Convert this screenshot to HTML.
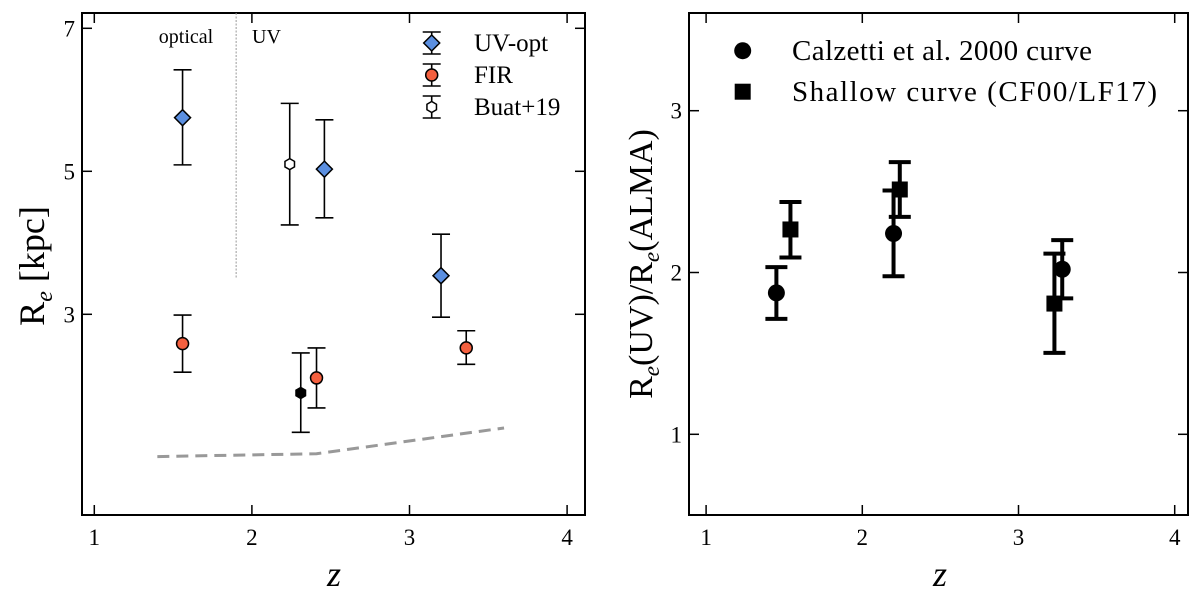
<!DOCTYPE html>
<html><head><meta charset="utf-8"><style>
body{margin:0;background:#fff;}
svg{display:block;font-family:"Liberation Serif",serif;}
</style></head><body>
<svg id="c" width="1200" height="597" viewBox="0 0 1200 597"></svg>
<script>
// ---- Left panel data ----
const uvZ=[1.56,2.46,3.20], uvR=[5.75,5.03,3.54], uvLo=[5.09,4.35,2.96], uvHi=[6.42,5.72,4.12];
const firZ=[1.56,2.41,3.36], firR=[2.59,2.11,2.53], firLo=[2.19,1.69,2.30], firHi=[2.99,2.53,2.77];
const buatZ=[2.24], buatR=[5.10], buatLo=[4.25], buatHi=[5.95];
const blkZ=[2.31], blkR=[1.90], blkLo=[1.35], blkHi=[2.46];
const dashZ=[1.40,2.41,3.60], dashR=[1.01,1.05,1.41];
const leftXTicks=[1,2,3,4], leftYTicks=[3,5,7];
// ---- Right panel data ----
const calZ=[1.45,2.20,3.28], calR=[1.874,2.241,2.02], calLo=[1.713,1.977,1.84], calHi=[2.033,2.507,2.20];
const shZ=[1.54,2.24,3.23], shR=[2.266,2.513,1.808], shLo=[2.093,2.344,1.503], shHi=[2.436,2.682,2.117];
const rightXTicks=[1,2,3,4], rightYTicks=[1,2,3];

const NS="http://www.w3.org/2000/svg", svg=document.getElementById('c');
function mk(t,a,p){const e=document.createElementNS(NS,t);for(const k in a)e.setAttribute(k,a[k]);(p||svg).appendChild(e);return e;}
const lx=z=>94.3+(z-1)*157.6, ly=v=>28.3+(7-v)*71.5;
const rx=z=>706.1+(z-1)*156.2, ry=v=>110.7+(3-v)*161.8;

let g=mk('g',{});
let f=mk('rect',{x:82,y:13,width:503,height:502,fill:'none',stroke:'#000','stroke-width':2},g);

leftXTicks.forEach(t=>{const x=lx(t);
 mk('line',{x1:x,y1:515,x2:x,y2:505,stroke:'#000','stroke-width':1.5},g);
 mk('line',{x1:x,y1:13,x2:x,y2:23,stroke:'#000','stroke-width':1.5},g);
 const tx=mk('text',{x:x,y:545,'font-size':23,'text-anchor':'middle'},g);tx.textContent=t;
 });
leftYTicks.forEach(t=>{const y=ly(t);
 mk('line',{x1:82,y1:y,x2:92,y2:y,stroke:'#000','stroke-width':1.5},g);
 mk('line',{x1:585,y1:y,x2:575,y2:y,stroke:'#000','stroke-width':1.5},g);
 const tx=mk('text',{x:75,y:y+8,'font-size':23,'text-anchor':'end'},g);tx.textContent=t;
 });
let yl=mk('text',{x:0,y:0,'font-size':36,'text-anchor':'middle',transform:'translate(44,266) rotate(-90)'},g);
yl.innerHTML='R<tspan font-style="italic" font-size="24" dy="8">e</tspan><tspan dy="-8"> [kpc]</tspan>';

let xl=mk('text',{x:334,y:586,'font-size':36,'font-style':'italic','text-anchor':'middle'},g);xl.textContent='z';

let dv=mk('line',{x1:lx(1.90),y1:13,x2:lx(1.90),y2:ly(3.51),stroke:'#999','stroke-width':1,'stroke-dasharray':'2,1.5'},g);

let t1=mk('text',{x:186,y:43,'font-size':20,'text-anchor':'middle'},g);t1.textContent='optical';

let t2=mk('text',{x:252,y:43,'font-size':20},g);t2.textContent='UV';

let dp=dashZ.map((z,i)=>lx(z)+','+ly(dashR[i])).join(' ');
let dl=mk('polyline',{points:dp,fill:'none',stroke:'#999','stroke-width':3,'stroke-dasharray':'12,7'},g);


function err(p,x,y1,y2,cw,sw){mk('line',{x1:x,y1:y1,x2:x,y2:y2,stroke:'#000','stroke-width':sw},p);
 mk('line',{x1:x-cw,y1:y1,x2:x+cw,y2:y1,stroke:'#000','stroke-width':sw},p);
 mk('line',{x1:x-cw,y1:y2,x2:x+cw,y2:y2,stroke:'#000','stroke-width':sw},p);}
function diamond(p,x,y,s,fill){return mk('polygon',{points:`${x},${y-s} ${x+s},${y} ${x},${y+s} ${x-s},${y}`,fill:fill,stroke:'#000','stroke-width':1.5},p);}
function hexa(p,x,y,r,fill){let pts=[];for(let k=0;k<6;k++){const a=Math.PI/6+k*Math.PI/3;pts.push((x+r*Math.cos(a))+','+(y+r*Math.sin(a)));}
 return mk('polygon',{points:pts.join(' '),fill:fill,stroke:'#000','stroke-width':1.5},p);}

uvZ.forEach((z,i)=>{const p=mk('g',{},g);
 err(p,lx(z),ly(uvHi[i]),ly(uvLo[i]),9,1.6);diamond(p,lx(z),ly(uvR[i]),8,'#5b8fe0');});
firZ.forEach((z,i)=>{const p=mk('g',{},g);
 err(p,lx(z),ly(firHi[i]),ly(firLo[i]),9,1.6);mk('circle',{cx:lx(z),cy:ly(firR[i]),r:6,fill:'#f4603f',stroke:'#000','stroke-width':1.5},p);});
buatZ.forEach((z,i)=>{const p=mk('g',{},g);
 err(p,lx(z),ly(buatHi[i]),ly(buatLo[i]),9,1.6);hexa(p,lx(z),ly(buatR[i]),5.5,'#fff');});
blkZ.forEach((z,i)=>{const p=mk('g',{},g);
 err(p,lx(z),ly(blkHi[i]),ly(blkLo[i]),9,1.6);hexa(p,lx(z),ly(blkR[i]),5.5,'#000');});
const legN=['UV-opt','FIR','Buat+19'];
legN.forEach((n,i)=>{const y=43+i*32,x=431.7;const p=mk('g',{},g);
 err(p,x,y-11,y+11,9,1.6);
 if(i==0)diamond(p,x,y,8,'#5b8fe0');else if(i==1)mk('circle',{cx:x,cy:y,r:6,fill:'#f4603f',stroke:'#000','stroke-width':1.5},p);else hexa(p,x,y,5.5,'#fff');
 const t=mk('text',{x:474,y:y+8,'font-size':25},p);t.textContent=n;});

let g2=mk('g',{});
let f2=mk('rect',{x:689,y:13,width:499,height:502,fill:'none',stroke:'#000','stroke-width':2},g2);

rightXTicks.forEach(t=>{const x=rx(t);
 mk('line',{x1:x,y1:515,x2:x,y2:505,stroke:'#000','stroke-width':1.5},g2);
 mk('line',{x1:x,y1:13,x2:x,y2:23,stroke:'#000','stroke-width':1.5},g2);
 const tx=mk('text',{x:x,y:545,'font-size':23,'text-anchor':'middle'},g2);tx.textContent=t;
 });
rightYTicks.forEach(t=>{const y=ry(t);
 mk('line',{x1:689,y1:y,x2:699,y2:y,stroke:'#000','stroke-width':1.5},g2);
 mk('line',{x1:1188,y1:y,x2:1178,y2:y,stroke:'#000','stroke-width':1.5},g2);
 const tx=mk('text',{x:682,y:y+8,'font-size':23,'text-anchor':'end'},g2);tx.textContent=t;
 });
let yl2=mk('text',{x:0,y:0,'font-size':34,'text-anchor':'middle',transform:'translate(652,264) rotate(-90)'},g2);
yl2.innerHTML='R<tspan font-style="italic" font-size="23" dy="7">e</tspan><tspan dy="-7">(UV)/R</tspan><tspan font-style="italic" font-size="23" dy="7">e</tspan><tspan dy="-7">(ALMA)</tspan>';

let xl2=mk('text',{x:940,y:586,'font-size':36,'font-style':'italic','text-anchor':'middle'},g2);xl2.textContent='z';


calZ.forEach((z,i)=>{const p=mk('g',{},g2);
 err(p,rx(z),ry(calHi[i]),ry(calLo[i]),11,4);mk('circle',{cx:rx(z),cy:ry(calR[i]),r:8.5,fill:'#000'},p);});
shZ.forEach((z,i)=>{const p=mk('g',{},g2);
 err(p,rx(z),ry(shHi[i]),ry(shLo[i]),11,4);mk('rect',{x:rx(z)-8,y:ry(shR[i])-8,width:16,height:16,fill:'#000'},p);});
let le1=mk('g',{},g2);
mk('circle',{cx:742.7,cy:50.7,r:8.5,fill:'#000'},le1);
let lt1=mk('text',{x:792,y:60,'font-size':29,textLength:300},le1);lt1.textContent='Calzetti et al. 2000 curve';
let le2=mk('g',{},g2);
mk('rect',{x:734.7,y:83.7,width:16,height:16,fill:'#000'},le2);
let lt2=mk('text',{x:792,y:101,'font-size':29,textLength:365},le2);lt2.textContent='Shallow curve (CF00/LF17)';
</script>
</body></html>
